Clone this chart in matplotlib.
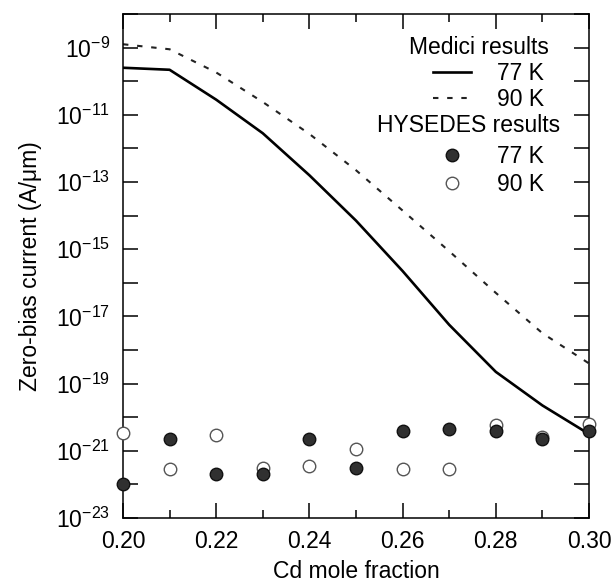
import numpy as np
import matplotlib
matplotlib.use("Agg")
import matplotlib.pyplot as plt
from matplotlib.ticker import FixedLocator, FuncFormatter, NullLocator, MultipleLocator

plt.rcParams["font.family"] = ["Liberation Sans", "DejaVu Sans"]
plt.rcParams["mathtext.fontset"] = "custom"
plt.rcParams["mathtext.rm"] = "Liberation Sans"
plt.rcParams["mathtext.it"] = "Liberation Sans:italic"

# Cd mole fraction grid
cd_frac = [0.20, 0.21, 0.22, 0.23, 0.24, 0.25, 0.26, 0.27, 0.28, 0.29, 0.30]

# Medici simulation, log10 of zero-bias current (A/um)
medici_77k = [-9.60, -9.66, -10.55, -11.55, -12.80, -14.15, -15.65, -17.25, -18.65, -19.65, -20.50]
medici_90k = [-8.90, -9.05, -9.74, -10.62, -11.57, -12.65, -13.85, -15.06, -16.30, -17.50, -18.40]

# HYSEDES results, log10 of zero-bias current (A/um)
hysedes_77k = [-22.00, -20.64, -21.69, -21.69, -20.64, -21.50, -20.40, -20.35, -20.40, -20.64, -20.40]
hysedes_90k = [-20.46, -21.54, -20.52, -21.50, -21.45, -20.95, -21.54, -21.54, -20.22, -20.58, -20.20]

FS = 16.5
x = np.array(cd_frac)

fig = plt.figure(figsize=(6.11, 5.83), dpi=100)
ax = fig.add_axes([0.2013, 0.1115, 0.7627, 0.8645])

l77, = ax.plot(x, 10.0 ** np.array(medici_77k), color="black", lw=1.9, label="77 K")
l90, = ax.plot(x, 10.0 ** np.array(medici_90k), color="#222222", lw=1.5,
               linestyle=(0, (2.6, 4.2)), label="90 K")

o90, = ax.plot(x, 10.0 ** np.array(hysedes_90k), "o", ms=9, mfc="white", mec="#555555",
               mew=1.0, clip_on=False, zorder=4, label="90 K")
o77, = ax.plot(x, 10.0 ** np.array(hysedes_77k), "o", ms=9, mfc="#303030", mec="#111111",
               mew=1.0, clip_on=False, zorder=5, label="77 K")

ax.set_yscale("log")
ax.set_xlim(0.20, 0.30)
ax.set_ylim(1e-23, 1e-8)

ax.xaxis.set_major_locator(MultipleLocator(0.02))
ax.xaxis.set_minor_locator(MultipleLocator(0.01))
ax.xaxis.set_major_formatter(FuncFormatter(lambda v, p: f"{v:.2f}"))

decades = np.arange(-23, -7)
ax.yaxis.set_major_locator(FixedLocator(10.0 ** decades))
ax.yaxis.set_minor_locator(NullLocator())


def fmt_decade(v, pos):
    e = int(round(np.log10(v)))
    if e % 2 == 0:
        return ""
    return r"$\mathregular{10^{%d}}$" % e


ax.yaxis.set_major_formatter(FuncFormatter(fmt_decade))

ax.tick_params(which="both", direction="in", top=True, right=True, width=1.1, labelsize=FS)
ax.tick_params(which="major", length=10.5, pad=9)
ax.tick_params(which="minor", length=5.5)
for s in ax.spines.values():
    s.set_linewidth(1.1)

ax.set_xlabel("Cd mole fraction", fontsize=FS, labelpad=5)
ax.set_ylabel("Zero-bias current (A/\u03bcm)", fontsize=FS, labelpad=10)

# legend headings, then the entries under each heading
ax.text(0.914, 0.934, "Medici results", transform=ax.transAxes, ha="right", va="center",
        fontsize=FS)
ax.text(0.938, 0.778, "HYSEDES results", transform=ax.transAxes, ha="right", va="center",
        fontsize=FS)

leg1 = ax.legend(handles=[l77, l90], loc="upper right", bbox_to_anchor=(0.903, 0.905),
                 frameon=False, fontsize=FS, borderpad=0, borderaxespad=0,
                 handlelength=1.7, handletextpad=1.1, labelspacing=0.12)
ax.add_artist(leg1)
ax.legend(handles=[o77, o90], loc="upper right", bbox_to_anchor=(0.903, 0.741),
          frameon=False, fontsize=FS, borderpad=0, borderaxespad=0,
          handlelength=1.7, handletextpad=1.1, labelspacing=0.25)

fig.savefig("out.png", dpi=100)
